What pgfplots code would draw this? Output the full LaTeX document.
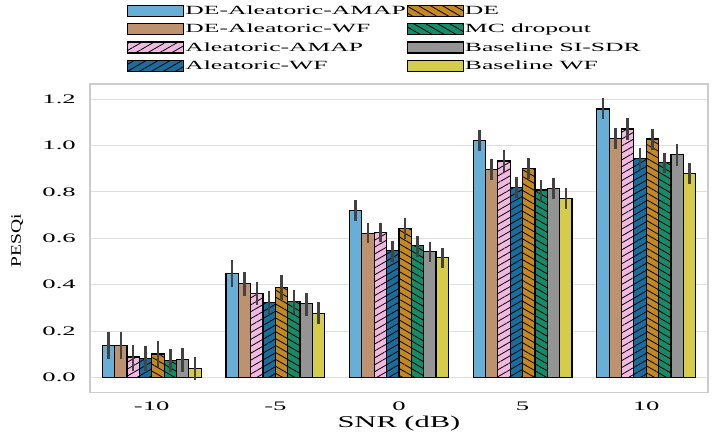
\documentclass[border=0pt]{standalone}
\usepackage{fontspec}
\setmainfont{Liberation Serif}[FakeStretch=2.05]
\newfontfamily\ylabfont{Liberation Serif}[FakeStretch=1.35]
\newfontfamily\labelserif{Liberation Serif}[FakeStretch=1.85]
\usepackage{pgfplots}
\pgfplotsset{compat=1.18}
\usepackage{pgfplotstable}
\usetikzlibrary{patterns.meta}

\definecolor{cBlue}{HTML}{68AFD7}
\definecolor{cBrown}{HTML}{BD926E}
\definecolor{cPink}{HTML}{F2B9E0}
\definecolor{cDBlue}{HTML}{176D9C}
\definecolor{cOrange}{HTML}{C38820}
\definecolor{cGreen}{HTML}{168B6A}
\definecolor{cGray}{HTML}{949494}
\definecolor{cYellow}{HTML}{D5CD4A}
\definecolor{errgray}{HTML}{424242}

% x = SNR index + bar offset, y = mean, hi/lo = ends of the error bar
\pgfplotstableread{
x     y     hi    lo
-0.35 0.139 0.195 0.079
0.65  0.449 0.504 0.388
1.65  0.719 0.765 0.676
2.65  1.020 1.066 0.977
3.65  1.157 1.206 1.113
}\deAleAmap
\pgfplotstableread{
x     y     hi    lo
-0.25 0.139 0.195 0.079
0.75  0.406 0.456 0.353
1.75  0.622 0.667 0.579
2.75  0.897 0.943 0.851
3.75  1.031 1.076 0.983
}\deAleWf
\pgfplotstableread{
x     y     hi    lo
-0.15 0.088 0.139 0.026
0.85  0.360 0.411 0.310
1.85  0.624 0.667 0.582
2.85  0.933 0.980 0.887
3.85  1.071 1.117 1.023
}\aleAmap
\pgfplotstableread{
x     y     hi    lo
-0.05 0.082 0.136 0.026
0.95  0.323 0.373 0.274
1.95  0.547 0.590 0.499
2.95  0.820 0.865 0.772
3.95  0.942 0.990 0.894
}\aleWf
\pgfplotstableread{
x     y     hi    lo
0.05  0.101 0.155 0.043
1.05  0.388 0.441 0.332
2.05  0.643 0.689 0.597
3.05  0.901 0.947 0.854
4.05  1.028 1.070 0.980
}\deOnly
\pgfplotstableread{
x     y     hi    lo
0.15  0.073 0.124 0.022
1.15  0.327 0.375 0.274
2.15  0.567 0.610 0.521
3.15  0.808 0.851 0.762
4.15  0.926 0.969 0.880
}\mcDrop
\pgfplotstableread{
x     y     hi    lo
0.25  0.078 0.127 0.022
1.25  0.319 0.363 0.266
2.25  0.543 0.584 0.497
3.25  0.815 0.860 0.768
4.25  0.960 1.005 0.913
}\baseSisdr
\pgfplotstableread{
x     y     hi    lo
0.35  0.040 0.088 -0.010
1.35  0.277 0.323 0.231
2.35  0.517 0.557 0.471
3.35  0.771 0.815 0.726
4.35  0.880 0.926 0.834
}\baseWf

\begin{document}
\begin{tikzpicture}
\begin{axis}[
  scale only axis,
  width=618.5pt, height=309pt,
  xmin=-0.5, xmax=4.5,
  ymin=-0.066, ymax=1.265,
  xtick={0,1,2,3,4},
  xticklabels={-10,-5,0,5,10},
  ytick={0,0.2,...,1.2},
  major tick length=0pt,
  tick style={draw=none},
  ymajorgrids,
  grid style={draw=black!13, line width=1pt},
  axis line style={draw=black!20, line width=1.2pt},
  /pgf/number format/assume math mode=true,
  yticklabel style={/pgf/number format/fixed, /pgf/number format/fixed zerofill,
    /pgf/number format/precision=1, inner sep=0pt, xshift=-14pt},
  xticklabel style={inner sep=0pt, yshift=-9pt},
  tick label style={font=\fontsize{13}{13}\selectfont},
  xlabel={SNR (dB)},
  xlabel style={at={(axis description cs:0.5,-0.113)}, anchor=base,
    font=\labelserif\fontsize{16.5}{17}\selectfont},
  ylabel={\ylabfont\fontsize{14.5}{15}\selectfont PESQi},
  ylabel style={at={(axis description cs:-0.1116,0.492)}, anchor=base},
  bar width=0.1, bar shift=0pt,
  every axis plot/.append style={ybar, draw=black, line width=1.2pt},
  error bars/y dir=both,
  error bars/y explicit,
  error bars/error mark=none,
  error bars/error bar style={line width=2.6pt, draw=errgray},
  legend image code/.code={\draw[#1] (0pt,-5.5pt) rectangle (56pt,5.5pt);},
  legend cell align=left,
  legend columns=2,
  legend style={at={(axis description cs:0.06,1.256)}, anchor=north west,
    draw=none, fill=none, inner sep=0pt, row sep=6pt,
    nodes={inner sep=1pt},
    font=\fontsize{12.5}{14}\selectfont},
]
% plotted in legend order (row by row), each bar placed by its own x offset
\addplot[fill=cBlue] table[x=x, y=y,
  y error plus expr=\thisrow{hi}-\thisrow{y},
  y error minus expr=\thisrow{y}-\thisrow{lo}] {\deAleAmap};
\addlegendentry{DE-Aleatoric-AMAP}
\addplot[fill=cOrange, postaction={pattern={Lines[angle=-30,distance=6pt,line width=0.8pt]}, pattern color=black}]
  table[x=x, y=y,
  y error plus expr=\thisrow{hi}-\thisrow{y},
  y error minus expr=\thisrow{y}-\thisrow{lo}] {\deOnly};
\addlegendentry{DE}
\addplot[fill=cBrown] table[x=x, y=y,
  y error plus expr=\thisrow{hi}-\thisrow{y},
  y error minus expr=\thisrow{y}-\thisrow{lo}] {\deAleWf};
\addlegendentry{DE-Aleatoric-WF}
\addplot[fill=cGreen, postaction={pattern={Lines[angle=-30,distance=6pt,line width=0.8pt]}, pattern color=black}]
  table[x=x, y=y,
  y error plus expr=\thisrow{hi}-\thisrow{y},
  y error minus expr=\thisrow{y}-\thisrow{lo}] {\mcDrop};
\addlegendentry{MC dropout}
\addplot[fill=cPink, postaction={pattern={Lines[angle=30,distance=6pt,line width=0.8pt]}, pattern color=black}]
  table[x=x, y=y,
  y error plus expr=\thisrow{hi}-\thisrow{y},
  y error minus expr=\thisrow{y}-\thisrow{lo}] {\aleAmap};
\addlegendentry{Aleatoric-AMAP}
\addplot[fill=cGray] table[x=x, y=y,
  y error plus expr=\thisrow{hi}-\thisrow{y},
  y error minus expr=\thisrow{y}-\thisrow{lo}] {\baseSisdr};
\addlegendentry{Baseline SI-SDR}
\addplot[fill=cDBlue, postaction={pattern={Lines[angle=30,distance=6pt,line width=0.8pt]}, pattern color=black}]
  table[x=x, y=y,
  y error plus expr=\thisrow{hi}-\thisrow{y},
  y error minus expr=\thisrow{y}-\thisrow{lo}] {\aleWf};
\addlegendentry{Aleatoric-WF}
\addplot[fill=cYellow] table[x=x, y=y,
  y error plus expr=\thisrow{hi}-\thisrow{y},
  y error minus expr=\thisrow{y}-\thisrow{lo}] {\baseWf};
\addlegendentry{Baseline WF}
\end{axis}
\pgfresetboundingbox
\path[use as bounding box] ([xshift=-90pt,yshift=-43pt]current axis.south west)
  rectangle ([xshift=6pt,yshift=84pt]current axis.north east);
\end{tikzpicture}
\end{document}
